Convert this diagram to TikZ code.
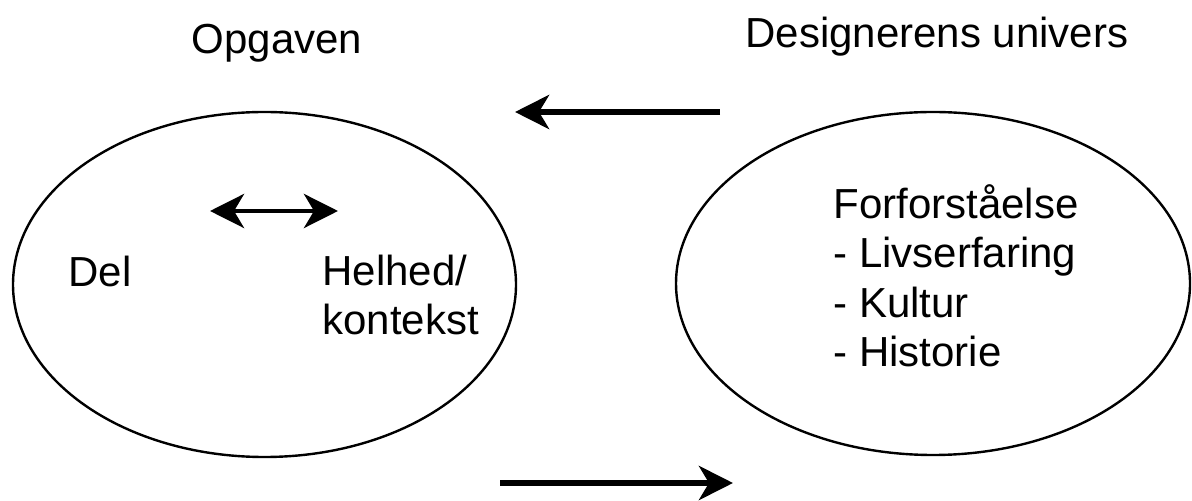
\documentclass[tikz,border=0pt]{standalone}
\usepackage{fontspec}
\setmainfont{Liberation Sans}
\usetikzlibrary{arrows.meta,shapes.geometric}

\begin{document}
\begin{tikzpicture}[x=0.5pt, y=-0.5pt,
  every node/.style={font=\fontsize{21}{24.75}\selectfont, inner sep=0pt},
  oval/.style={draw, ellipse, line width=1.2pt},
  pil/.style={line width=3pt, -{Stealth[length=17pt, width=17pt, inset=5pt]}},
  dobbeltpil/.style={line width=2.4pt, {Stealth[length=17pt, width=17pt, inset=5pt]}-{Stealth[length=17pt, width=17pt, inset=5pt]}}]

  \useasboundingbox (0,0) rectangle (1192,501);

  % overskrifter
  \node[anchor=base] (opgaven) at (277,54) {Opgaven};
  \node[anchor=base] (univers) at (937,48) {Designerens univers};

  % de to ellipser
  \node[oval, minimum width=251.5pt, minimum height=172.5pt] (opgave) at (264.5,284.5) {};
  \node[oval, minimum width=257pt, minimum height=171.5pt] (designer) at (933,283.5) {};

  % tekst i opgaven (base = sidste linje)
  \node[anchor=base west] (del) at (68,287) {Del};
  \node[anchor=base west, align=left] (helhed) at (322,335) {Helhed/\\kontekst};
  \coordinate (delpil) at (210,211);
  \coordinate (helpil) at (338,211);
  \draw[dobbeltpil] (delpil) -- (helpil);

  % tekst i designerens univers
  \node[anchor=base west, align=left] (forstaaelse) at (833,367)
    {Forforståelse\\- Livserfaring\\- Kultur\\- Historie};

  % pile mellem de to
  \coordinate (tilbageStart) at (720,112);
  \coordinate (tilbageSlut) at (515,112);
  \draw[pil] (tilbageStart) -- (tilbageSlut);
  \coordinate (fremStart) at (500,483);
  \coordinate (fremSlut) at (733,483);
  \draw[pil] (fremStart) -- (fremSlut);

\end{tikzpicture}
\end{document}
